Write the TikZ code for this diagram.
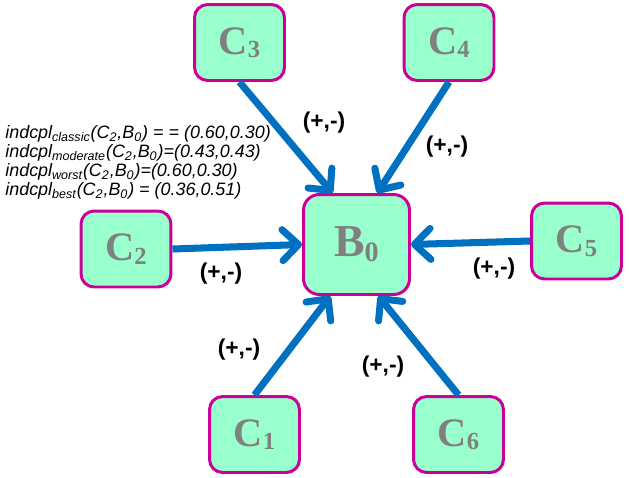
\documentclass[tikz,border=0pt]{standalone}
\usepackage{fontspec}
\setmainfont{Liberation Serif}
\newfontfamily\sansfont{Liberation Sans}
\usetikzlibrary{arrows.meta}
\definecolor{boxfill}{HTML}{99FFCC}
\definecolor{boxline}{HTML}{CC0099}
\definecolor{linkblue}{HTML}{0070C0}
\definecolor{namegray}{HTML}{808080}
\newcommand{\cname}[2]{#1\raisebox{-2pt}{\fontsize{14}{14}\selectfont #2}}
\newcommand{\bname}[2]{#1\raisebox{-3pt}{\fontsize{16}{16}\selectfont #2}}

\begin{document}
\begin{tikzpicture}[x=0.02cm,y=-0.02cm,
  conc/.style={draw=boxline,fill=boxfill,line width=1.7pt,rounded corners=7.5pt,
    minimum width=1.8cm,minimum height=1.52cm,inner sep=0pt,text=namegray,
    font=\fontsize{23}{23}\selectfont\bfseries},
  base/.style={conc,minimum width=2.12cm,minimum height=2cm,rounded corners=9pt,
    font=\fontsize{26}{26}\selectfont\bfseries},
  link/.style={linkblue,line width=4pt,
    -{Straight Barb[length=0.32cm,width=0.62cm,line cap=round,line join=round]}},
  sign/.style={font=\sansfont\bfseries\fontsize{13}{13}\selectfont,inner sep=0pt}]
\useasboundingbox (0,0) rectangle (629,477);
\node[base] (b0) at (356.5,244.5) {\bname{B}{0}};
\node[conc] (c1) at (254.5,434.5) {\cname{C}{1}};
\node[conc] (c2) at (126,249) {\cname{C}{2}};
\node[conc] (c3) at (239.5,42.5) {\cname{C}{3}};
\node[conc] (c4) at (449,42.5) {\cname{C}{4}};
\node[conc] (c5) at (576.5,241) {\cname{C}{5}};
\node[conc] (c6) at (458.5,434.5) {\cname{C}{6}};
\draw[link] (c3.south) -- (b0.115);
\draw[link] (c4.south) -- (b0.68);
\draw[link] (c2.east) -- (b0.west);
\draw[link] (c5.west) -- (b0.east);
\draw[link] (c1.north) -- (b0.243);
\draw[link] (c6.north) -- (b0.293);
\node[sign] (s3) at (324,123) {(+,-)};
\node[sign] (s4) at (447,147) {(+,-)};
\node[sign] (s2) at (221,274) {(+,-)};
\node[sign] (s5) at (494,269) {(+,-)};
\node[sign] (s1) at (239,350) {(+,-)};
\node[sign] (s6) at (383,367) {(+,-)};
\node[anchor=north west,inner sep=0pt,align=left,
  font=\sansfont\itshape\fontsize{10.2}{10.9}\selectfont] (eqs) at (5,125)
  {indcpl\textsubscript{classic}(C\textsubscript{2},B\textsubscript{0}) = = (0.60,0.30)\\
   indcpl\textsubscript{moderate}(C\textsubscript{2},B\textsubscript{0})=(0.43,0.43)\\
   indcpl\textsubscript{worst}(C\textsubscript{2},B\textsubscript{0})=(0.60,0.30)\\
   indcpl\textsubscript{best}(C\textsubscript{2},B\textsubscript{0}) = (0.36,0.51)};
\end{tikzpicture}
\end{document}
